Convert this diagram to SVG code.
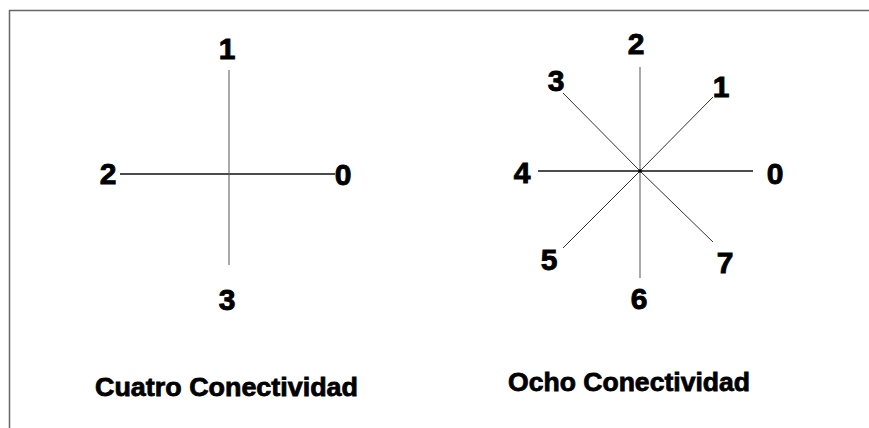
<svg xmlns="http://www.w3.org/2000/svg" width="869" height="428" viewBox="0 0 869 428">
<style>
.d{font-family:"Liberation Sans",Arial,sans-serif;font-weight:bold;font-size:30px;fill:#000;stroke:#000;stroke-width:0.9;text-anchor:middle}
.cap{font-family:"Liberation Sans",Arial,sans-serif;font-weight:bold;font-size:26px;fill:#000;stroke:#000;stroke-width:0.8}
.ln{stroke:#333;stroke-width:1;fill:none}
.lh{stroke:#111;stroke-width:1.3;fill:none}
.lv{stroke:#555;stroke-width:1;fill:none}
.frame{stroke:#666;stroke-width:1.5;fill:none}
</style>
<rect width="869" height="428" fill="#fff"/>
<g id="frame">
<path class="frame" d="M9.5 428 V10.5 H869"/>
</g>
<g id="connectors">
<line class="lh" x1="120" y1="174" x2="335" y2="174"/>
<line class="lv" x1="229" y1="70" x2="229" y2="265"/>
<line class="lh" x1="538" y1="171" x2="753" y2="171"/>
<line class="lv" x1="640" y1="67" x2="640" y2="278"/>
<line class="ln" x1="640" y1="171" x2="713" y2="97"/>
<line class="ln" x1="640" y1="171" x2="563" y2="93"/>
<line class="ln" x1="640" y1="171" x2="563" y2="248"/>
<line class="ln" x1="640" y1="171" x2="713" y2="242"/>
<circle cx="640" cy="171" r="1.8" fill="#000"/>
</g>
<g id="four">
<g id="n4-1"><text class="d" x="227" y="59">1</text></g>
<g id="n4-2"><text class="d" x="108" y="184">2</text></g>
<g id="n4-0"><text class="d" x="343" y="185">0</text></g>
<g id="n4-3"><text class="d" x="227" y="310">3</text></g>
<g id="cap4"><text class="cap" x="95" y="396" textLength="263" lengthAdjust="spacingAndGlyphs">Cuatro Conectividad</text></g>
</g>
<g id="eight">
<g id="n8-2"><text class="d" x="636" y="54">2</text></g>
<g id="n8-3"><text class="d" x="556" y="91">3</text></g>
<g id="n8-1"><text class="d" x="721" y="97">1</text></g>
<g id="n8-4"><text class="d" x="522" y="183">4</text></g>
<g id="n8-0"><text class="d" x="775" y="184">0</text></g>
<g id="n8-5"><text class="d" x="549" y="270">5</text></g>
<g id="n8-6"><text class="d" x="639" y="309">6</text></g>
<g id="n8-7"><text class="d" x="725" y="273">7</text></g>
<g id="cap8"><text class="cap" x="508" y="391" textLength="242" lengthAdjust="spacingAndGlyphs">Ocho Conectividad</text></g>
</g>
</svg>
